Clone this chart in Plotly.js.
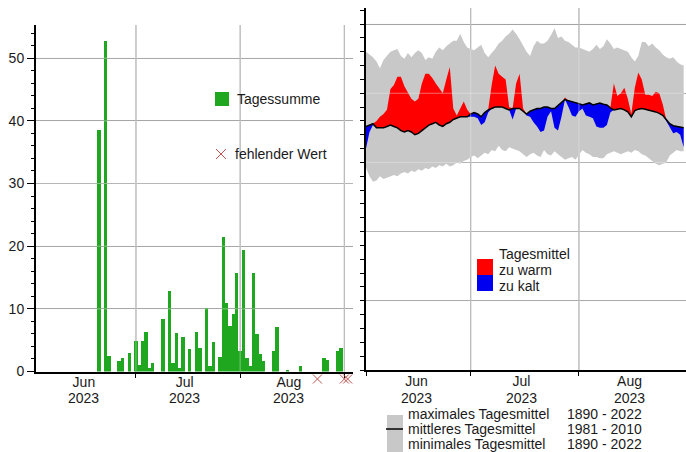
<!DOCTYPE html>
<html><head><meta charset="utf-8">
<script src="https://cdn.plot.ly/plotly-3.0.1.min.js"></script>
<style>html,body{margin:0;padding:0;background:#fff}#chart{width:686px;height:452px}</style>
</head><body><div id="chart"></div>
<script>
// ---------- precipitation (left panel) ----------
const rainDates = ['2023-06-20','2023-06-22','2023-06-23','2023-06-26','2023-06-27','2023-06-29',
  '2023-07-01','2023-07-02','2023-07-03','2023-07-04','2023-07-05','2023-07-06','2023-07-09','2023-07-11',
  '2023-07-12','2023-07-13','2023-07-14','2023-07-15','2023-07-17','2023-07-19','2023-07-20','2023-07-22',
  '2023-07-23','2023-07-24','2023-07-26','2023-07-27','2023-07-28','2023-07-29','2023-07-30','2023-07-31',
  '2023-08-01','2023-08-02','2023-08-03','2023-08-04','2023-08-05','2023-08-06','2023-08-07','2023-08-08',
  '2023-08-11','2023-08-12','2023-08-15','2023-08-19','2023-08-26','2023-08-27','2023-08-30','2023-08-31'];
const rainMm = [38.5,52.7,2.4,1.6,2.2,2.9,
  4.9,1.0,4.9,6.3,0.5,1.3,8.3,12.9,
  1.3,6.1,0.5,5.5,3.6,6.3,3.8,10.2,
  0.8,4.7,2.3,21.5,10.9,7.3,9.1,15.7,
  3.2,19.4,2.1,0.8,15.7,6.0,2.8,1.7,
  3.2,7.1,0.3,0.9,2.1,1.9,3.2,3.7];
const missingDates = ['2023-08-24','2023-09-01','2023-09-02'];
const rainTickVals = [0,10,20,30,40,50];

// ---------- daily mean temperature (right panel), 1 Jun .. 31 Aug 2023 ----------
const tMax = [23.0,22.8,22.6,22.3,21.8,22.4,22.7,23.0,23.1,23.2,
  22.7,22.5,22.9,22.6,22.9,23.1,22.9,22.4,22.6,22.5,
  23.0,23.3,23.1,23.4,23.6,23.8,23.8,24.3,23.7,23.3,
  23.2,23.1,23.3,23.5,22.9,22.6,22.9,23.2,23.6,23.8,
  24.1,24.3,24.6,24.3,23.9,23.4,23.0,22.7,23.4,23.8,
  23.6,23.6,23.8,24.2,24.7,24.0,24.1,23.8,23.7,23.5,
  23.3,23.3,23.2,23.1,23.0,23.2,23.5,23.2,23.4,23.9,
  23.6,23.2,23.3,23.2,23.1,23.0,22.6,22.3,22.7,23.7,
  23.7,23.4,23.6,23.3,23.1,22.8,22.6,22.5,22.6,22.3,
  22.1,22.0];
const tMin = [14.6,14.0,13.6,13.7,14.0,13.8,13.9,14.0,14.1,14.0,
  14.2,14.3,14.2,14.4,14.3,14.5,14.4,14.6,14.5,14.7,
  14.6,14.8,14.7,14.9,14.7,14.8,15.0,14.9,15.1,15.2,
  15.4,15.5,15.3,15.5,15.7,15.6,15.9,15.8,16.2,15.9,
  15.8,16.1,16.0,15.9,15.8,15.6,15.4,15.6,15.7,15.5,
  15.4,15.9,15.6,15.5,15.8,15.6,15.4,15.2,15.3,15.4,
  15.2,15.6,15.9,15.7,15.6,15.4,15.4,15.3,15.3,15.6,
  15.7,15.8,15.7,15.6,15.7,15.8,15.7,15.9,15.8,15.6,
  15.5,15.3,15.1,14.9,14.8,14.9,15.0,15.5,15.7,15.9,
  15.8,15.8];
const tMean = [17.6,17.7,17.8,17.5,17.5,17.5,17.6,17.7,17.6,17.5,
  17.3,17.2,17.3,17.2,17.0,17.1,17.3,17.5,17.7,17.8,
  17.9,17.7,17.6,17.8,17.9,18.1,18.2,18.3,18.3,18.3,
  18.5,18.6,18.5,18.3,18.6,18.8,18.9,19.0,19.0,19.0,
  18.9,18.8,18.9,18.9,18.9,18.7,18.5,18.7,18.8,18.9,
  18.9,19.0,19.0,18.9,18.9,19.1,19.3,19.55,19.45,19.4,
  19.35,19.25,19.15,19.2,19.3,19.15,19.2,19.3,19.2,19.15,
  18.95,18.8,18.85,18.9,18.8,18.65,18.3,18.75,18.85,18.9,
  18.85,18.8,18.75,18.65,18.55,18.4,18.1,17.8,17.65,17.6,
  17.6,17.5];
const tActual = [16.0,17.2,17.7,18.0,18.3,18.5,18.8,20.3,20.6,21.2,
  21.2,20.5,20.0,19.6,19.4,19.6,20.7,21.4,21.4,21.1,
  20.7,20.3,20.0,21.0,21.9,18.9,18.4,18.9,19.4,18.8,
  18.3,18.3,18.2,17.7,17.9,18.6,20.6,22.0,21.4,21.2,
  21.0,19.0,18.1,20.7,21.4,18.9,18.4,18.3,17.9,17.6,
  17.2,17.3,18.3,18.7,17.5,17.3,18.3,19.7,19.0,18.4,
  18.3,18.7,18.9,18.4,18.3,18.2,17.6,17.5,17.5,17.7,
  18.6,20.7,19.8,20.0,20.4,19.6,18.5,20.4,21.5,21.0,
  19.9,19.9,19.8,20.1,20.0,19.2,18.0,17.6,17.1,17.2,
  17.0,16.1];
const tempGrid = [5,10,15,20,25];

// ---------- axis labelling ----------
const monthStarts = ['2023-06-01','2023-07-01','2023-08-01','2023-09-01'];
const monthCenters = ['2023-06-15 12:00','2023-07-15 12:00','2023-08-15 12:00'];
const monthNames = ['Jun','Jul','Aug'];
const yearLabel = '2023';

const tempDates = tMean.map((_, i) => new Date(Date.UTC(2023, 5, 1 + i)).toISOString().slice(0, 10));
const warmTop = tActual.map((v, i) => Math.max(v, tMean[i]));
const coldBottom = tActual.map((v, i) => Math.min(v, tMean[i]));

const W = 686, H = 452;
const px = x => x / W, py = y => 1 - y / H;
const FONT = 'Liberation Sans, Arial, sans-serif';
const GREEN = '#1fa81f', GRAY = '#c8c8c8', RED = '#ff0000', BLUE = '#0000f0', XRED = '#c0504d';
const GRID = '#8c8c8c', GRID_OVER = 'rgba(235,235,235,0.45)';

const noHover = {hoverinfo: 'skip', showlegend: false};
const traces = [
  Object.assign({type: 'bar', x: rainDates, y: rainMm, xaxis: 'x', yaxis: 'y',
    width: 1.0 * 864e5, marker: {color: GREEN, line: {width: 0}}}, noHover),
  Object.assign({type: 'scatter', mode: 'markers', x: missingDates, y: missingDates.map(() => 0),
    xaxis: 'x', yaxis: 'y3', cliponaxis: false,
    marker: {symbol: 'x-thin-open', size: 9, color: XRED, line: {width: 1, color: XRED}}}, noHover),
  Object.assign({type: 'scatter', mode: 'lines', x: tempDates, y: tMin, xaxis: 'x2', yaxis: 'y2',
    line: {width: 0, color: GRAY}}, noHover),
  Object.assign({type: 'scatter', mode: 'lines', x: tempDates, y: tMax, xaxis: 'x2', yaxis: 'y2',
    fill: 'tonexty', fillcolor: GRAY, line: {width: 0, color: GRAY}}, noHover),
  Object.assign({type: 'scatter', mode: 'lines', x: tempDates, y: tMean, xaxis: 'x2', yaxis: 'y2',
    line: {width: 0, color: RED}}, noHover),
  Object.assign({type: 'scatter', mode: 'lines', x: tempDates, y: warmTop, xaxis: 'x2', yaxis: 'y2',
    fill: 'tonexty', fillcolor: RED, line: {width: 0, color: RED}}, noHover),
  Object.assign({type: 'scatter', mode: 'lines', x: tempDates, y: tMean, xaxis: 'x2', yaxis: 'y2',
    line: {width: 0, color: BLUE}}, noHover),
  Object.assign({type: 'scatter', mode: 'lines', x: tempDates, y: coldBottom, xaxis: 'x2', yaxis: 'y2',
    fill: 'tonexty', fillcolor: BLUE, line: {width: 0, color: BLUE}}, noHover),
  Object.assign({type: 'scatter', mode: 'lines', x: tempDates, y: tMean, xaxis: 'x2', yaxis: 'y2',
    line: {width: 1.5, color: '#000'}}, noHover)
];

const tickFont = {family: FONT, size: 14, color: '#1a1a1a'};
const dateAxis = {
  type: 'date', tickmode: 'array', tickvals: monthCenters, ticktext: monthNames, ticks: '',
  ticklabelstandoff: -3,
  minor: {tickvals: monthStarts, ticks: 'outside', ticklen: 4, tickcolor: '#000', tickwidth: 1, showgrid: false},
  showline: true, linecolor: '#000', linewidth: 2, showgrid: false,
  zeroline: false, tickfont: tickFont, fixedrange: true
};

const shapes = [];
const vline = (xr, yr, m, color, layer) => ({type: 'line', layer: layer, xref: xr, x0: m, x1: m,
  yref: yr, y0: 0, y1: 1, line: {color: color, width: 1}});
const hline = (xr, yr, v) => ({type: 'line', layer: 'above', xref: xr, x0: 0, x1: 1,
  yref: yr, y0: v, y1: v, line: {color: GRID_OVER, width: 1}});
monthStarts.slice(1).forEach(m => shapes.push(vline('x', 'y domain', m, GRID, 'below'), vline('x', 'y domain', m, GRID_OVER, 'above')));
monthStarts.slice(1, 3).forEach(m => shapes.push(vline('x2', 'y2 domain', m, GRID, 'below'), vline('x2', 'y2 domain', m, GRID_OVER, 'above')));
rainTickVals.slice(1).forEach(v => shapes.push(hline('x domain', 'y', v)));
tempGrid.forEach(v => shapes.push(hline('x2 domain', 'y2', v)));

// legend swatches
const rect = (x0, y0, x1, y1, color) => ({type: 'rect', xref: 'paper', yref: 'paper',
  x0: px(x0), x1: px(x1), y0: py(y1), y1: py(y0), fillcolor: color, line: {width: 0}});
const seg = (x0, y0, x1, y1, color, w) => ({type: 'line', xref: 'paper', yref: 'paper',
  x0: px(x0), x1: px(x1), y0: py(y0), y1: py(y1), line: {color: color, width: w}});
shapes.push(rect(215, 92, 229, 106, GREEN));
shapes.push(seg(216, 149, 226, 159, XRED, 1), seg(216, 159, 226, 149, XRED, 1));
shapes.push(rect(477, 259, 493, 275, RED), rect(477, 275, 493, 291, BLUE));
shapes.push(rect(387, 415, 403, 452, GRAY), seg(386, 429, 403, 429, '#000', 1.5));

const legFont = {family: FONT, size: 14, color: '#1a1a1a'};
const label = (x, y, text) => ({xref: 'paper', yref: 'paper', x: px(x), y: py(y), text: text,
  showarrow: false, xanchor: 'left', yanchor: 'middle', font: legFont});
const annotations = [
  label(235, 99, 'Tagessumme'),
  label(233, 154, 'fehlender Wert'),
  label(497, 254, 'Tagesmittel'),
  label(497, 270, 'zu warm'),
  label(497, 286, 'zu kalt'),
  label(406, 414, 'maximales Tagesmittel'),
  label(406, 429, 'mittleres Tagesmittel'),
  label(406, 444, 'minimales Tagesmittel'),
  label(565, 414, '1890 - 2022'),
  label(565, 429, '1981 - 2010'),
  label(565, 444, '1890 - 2022')
];
// year row under the month tick labels
['x', 'x2'].forEach(xr => monthCenters.forEach(c => annotations.push({xref: xr, yref: 'paper', x: c, y: py(398),
  text: yearLabel, showarrow: false, xanchor: 'center', yanchor: 'middle', font: tickFont})));

const layout = {
  width: W, height: H, margin: {l: 0, r: 0, t: 0, b: 0},
  paper_bgcolor: '#fff', plot_bgcolor: 'rgba(0,0,0,0)', showlegend: false, bargap: 0,
  font: {family: FONT, size: 14, color: '#1a1a1a'},
  xaxis: Object.assign({}, dateAxis, {domain: [px(36), px(353)], anchor: 'y',
    range: ['2023-06-01 06:00', '2023-09-03 14:00']}),
  yaxis: {domain: [py(371.5), py(25)], anchor: 'x', range: [0, 55.3], tickvals: rainTickVals,
    ticks: 'outside', ticklen: 7, tickcolor: '#000', showline: true, linecolor: '#000', linewidth: 2,
    showgrid: true, gridcolor: GRID, zeroline: false, tickfont: tickFont, fixedrange: true,
    minor: {dtick: 2, tick0: 0, ticks: 'outside', ticklen: 3, tickcolor: '#000', showgrid: false}},
  yaxis3: {domain: [py(386), py(372)], anchor: 'x', range: [-1, 1], visible: false, fixedrange: true},
  xaxis2: Object.assign({}, dateAxis, {domain: [px(366), 1], anchor: 'y2',
    range: ['2023-06-01', '2023-08-31 16:00']}),
  yaxis2: {domain: [py(370), py(8)], anchor: 'x2', range: [0, 26.16], tick0: 0, dtick: 5,
    showticklabels: false, ticks: 'outside', ticklen: 4, tickcolor: '#000',
    showline: true, linecolor: '#000', linewidth: 2, showgrid: true, gridcolor: GRID,
    zeroline: false, fixedrange: true,
    minor: {dtick: 1, tick0: 0, ticks: 'outside', ticklen: 4, tickcolor: '#000', showgrid: false}},
  shapes: shapes, annotations: annotations
};

Plotly.newPlot('chart', traces, layout, {staticPlot: true, displayModeBar: false});
</script></body></html>
